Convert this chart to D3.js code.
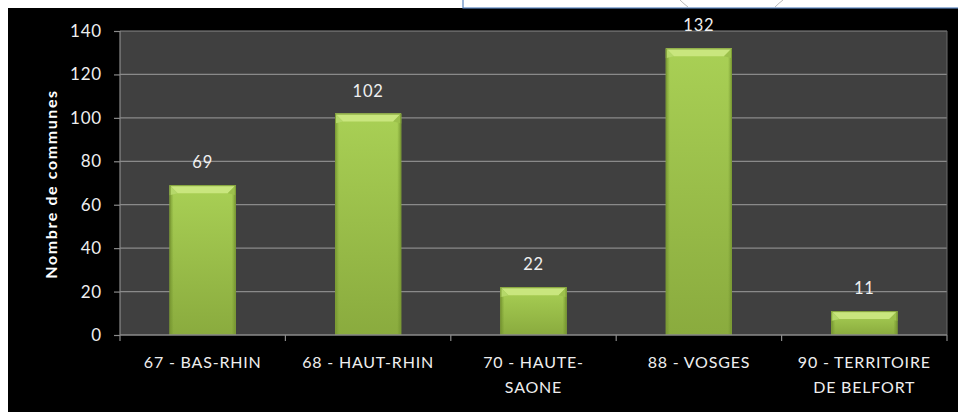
<!DOCTYPE html>
<html><head><meta charset="utf-8">
<script src="https://cdn.jsdelivr.net/npm/d3@7"></script>
<style>html,body{margin:0;padding:0;background:#fff;}svg{display:block;}</style>
</head><body>
<script>
const categories = [["67 - BAS-RHIN"], ["68 - HAUT-RHIN"], ["70 - HAUTE-", "SAONE"], ["88 - VOSGES"], ["90 - TERRITOIRE", "DE BELFORT"]];
const values = [69, 102, 22, 132, 11];
const yTicks = [0, 20, 40, 60, 80, 100, 120, 140];
const yTitle = "Nombre de communes";

const W = 958, H = 413;
const FONT = "Lato, 'Open Sans', sans-serif";
const svg = d3.select("body").append("svg").attr("width", W).attr("height", H);
const defs = svg.append("defs");

// background
svg.append("rect").attr("x", 0).attr("y", 0).attr("width", W).attr("height", H).attr("fill", "#fff");
svg.append("rect").attr("x", 8).attr("y", 8).attr("width", W - 8).attr("height", H - 9).attr("fill", "#000");
// top-right white strip (window fragment)
svg.append("rect").attr("x", 463).attr("y", -2).attr("width", 500).attr("height", 10)
  .attr("fill", "#fff").attr("stroke", "#5a86c0").attr("stroke-width", 1.2);
svg.append("path").attr("d", "M680,0 Q684,4 688,7 M775,7 Q779,3 783,0").attr("fill", "none").attr("stroke", "#bbb");

const M = {left: 120, right: 947, top: 31, bottom: 335};
const x = d3.scaleBand().domain(d3.range(categories.length)).range([M.left, M.right]).paddingInner(0.6).paddingOuter(0.3);
const y = d3.scaleLinear().domain([0, 140]).range([M.bottom, M.top]);

// plot area
svg.append("rect").attr("x", M.left).attr("y", M.top).attr("width", M.right - M.left).attr("height", M.bottom - M.top).attr("fill", "#404040");

// gridlines
svg.append("g").selectAll("line").data(yTicks.filter(d => d > 0)).join("line")
  .attr("x1", M.left).attr("x2", M.right).attr("y1", d => y(d)).attr("y2", d => y(d))
  .attr("stroke", "#8a8a8a").attr("stroke-width", 1.2);
svg.append("line").attr("x1", M.right).attr("x2", M.right).attr("y1", M.top).attr("y2", M.bottom).attr("stroke", "#6a6a6a");

// gradients
const g1 = defs.append("linearGradient").attr("id", "barGrad").attr("x1", 0).attr("x2", 0).attr("y1", 0).attr("y2", 1);
g1.append("stop").attr("offset", "0%").attr("stop-color", "#a9d055");
g1.append("stop").attr("offset", "100%").attr("stop-color", "#8aab3e");
const g2 = defs.append("linearGradient").attr("id", "sideGrad").attr("x1", 0).attr("x2", 1).attr("y1", 0).attr("y2", 0);
g2.append("stop").attr("offset", "0%").attr("stop-color", "#6f8f2c").attr("stop-opacity", 0.8);
g2.append("stop").attr("offset", "6%").attr("stop-color", "#6f8f2c").attr("stop-opacity", 0);
g2.append("stop").attr("offset", "94%").attr("stop-color", "#6f8f2c").attr("stop-opacity", 0);
g2.append("stop").attr("offset", "100%").attr("stop-color", "#6f8f2c").attr("stop-opacity", 0.8);

const bars = svg.append("g").selectAll("g").data(values).join("g");
bars.append("rect").attr("x", (d, i) => x(i)).attr("y", d => y(d)).attr("width", x.bandwidth()).attr("height", d => y(0) - y(d)).attr("fill", "url(#barGrad)");
bars.append("rect").attr("x", (d, i) => x(i)).attr("y", d => y(d)).attr("width", x.bandwidth()).attr("height", d => y(0) - y(d)).attr("fill", "url(#sideGrad)");
bars.append("path").attr("d", (d, i) => {
  const x0 = x(i), x1 = x(i) + x.bandwidth(), t = y(d), b = 8;
  return `M${x0},${t} L${x1},${t} L${x1 - b},${t + b} L${x0 + b},${t + b} Z`;
}).attr("fill", "#c9e67e");
bars.append("path").attr("d", (d, i) => {
  const x0 = x(i), t = y(d), b = 8;
  return `M${x0},${t} L${x0 + b},${t + b} L${x0},${t + b + 2} Z`;
}).attr("fill", "#b5d86a");
bars.append("path").attr("d", (d, i) => {
  const x1 = x(i) + x.bandwidth(), t = y(d), b = 8;
  return `M${x1},${t} L${x1 - b},${t + b} L${x1},${t + b + 2} Z`;
}).attr("fill", "#9cc04c");
bars.append("rect").attr("x", (d, i) => x(i) + 0.5).attr("y", d => y(d) + 0.5).attr("width", x.bandwidth() - 1).attr("height", d => y(0) - y(d) - 1)
  .attr("fill", "none").attr("stroke", "#7d9c36").attr("stroke-width", 1);

// value labels
svg.append("g").selectAll("text").data(values).join("text")
  .attr("x", (d, i) => x(i) + x.bandwidth() / 2).attr("y", d => y(d) - 17)
  .attr("text-anchor", "middle").attr("fill", "#f0f0f0")
  .attr("font-family", FONT).attr("font-size", 16.5).attr("letter-spacing", 0.8)
  .text(d => d);

// y axis
const yAxis = svg.append("g").attr("transform", `translate(${M.left},0)`)
  .call(d3.axisLeft(y).tickValues(yTicks).tickSize(6).tickPadding(12));
yAxis.select(".domain").attr("stroke", "#8a8a8a").attr("stroke-width", 1.2).attr("d", `M0,${M.top}V${M.bottom}`);
yAxis.selectAll(".tick line").attr("stroke", "#8a8a8a").attr("stroke-width", 1.2);
yAxis.selectAll(".tick text").attr("fill", "#eeeeee").attr("font-family", FONT).attr("font-size", 17).attr("letter-spacing", 0.8);

// x axis
const xAxisG = svg.append("g").attr("transform", `translate(0,${M.bottom})`);
xAxisG.append("line").attr("x1", M.left).attr("x2", M.right).attr("stroke", "#8a8a8a").attr("stroke-width", 1.5);
const bounds = d3.range(categories.length + 1).map(i => M.left + i * (M.right - M.left) / categories.length);
xAxisG.selectAll("line.tk").data(bounds).join("line").attr("class", "tk")
  .attr("x1", d => d).attr("x2", d => d).attr("y1", 0).attr("y2", 6).attr("stroke", "#8a8a8a").attr("stroke-width", 1.2);
const xl = xAxisG.selectAll("text").data(categories).join("text")
  .attr("text-anchor", "middle").attr("fill", "#eeeeee")
  .attr("font-family", FONT).attr("font-size", 16).attr("letter-spacing", 0.8);
xl.each(function(lines, i) {
  const t = d3.select(this);
  lines.forEach((ln, k) => {
    t.append("tspan").attr("x", x(i) + x.bandwidth() / 2).attr("y", 33 + k * 25).text(ln);
  });
});

// y title
svg.append("text").attr("transform", `translate(57,${(M.top + M.bottom) / 2 + 1}) rotate(-90)`)
  .attr("text-anchor", "middle").attr("fill", "#ffffff").attr("font-weight", "bold")
  .attr("font-family", FONT).attr("font-size", 16).attr("letter-spacing", 1.6)
  .text(yTitle);
</script>
</body></html>
